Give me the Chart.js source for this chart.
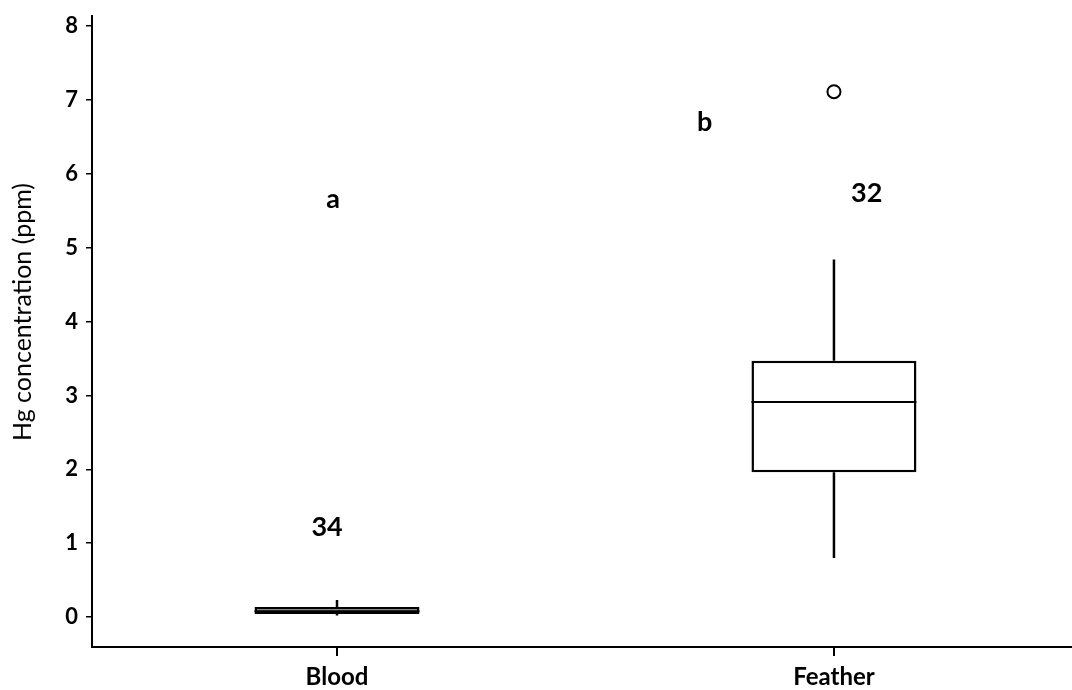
<!DOCTYPE html>
<html>
<head>
<meta charset="utf-8">
<script src="https://cdn.jsdelivr.net/npm/chart.js@4/dist/chart.umd.min.js"></script>
<style>
  html, body { margin: 0; padding: 0; background: #fff; }
  #wrap { width: 1072px; height: 690px; }
</style>
</head>
<body>
<div id="wrap"><canvas id="c" width="1072" height="690"></canvas></div>
<script>
// Hg concentration by tissue type: five-number summaries per group
const categories = ['Blood', 'Feather'];
const positions = [1, 2];
const whiskerLow = [0.02, 0.80];
const quartile1 = [0.04, 1.96];
const medians = [0.08, 2.91];
const quartile3 = [0.135, 3.47];
const whiskerHigh = [0.23, 4.84];
const outlierValues = [7.11];
const outlierGroups = [2];
const yTicks = [0, 1, 2, 3, 4, 5, 6, 7, 8];

// Text annotations: [label, x position, value]
const letterLabels = [['a', 0.992, 5.66], ['b', 1.74, 6.69]];
const countLabels = [['34', 0.98, 1.22], ['32', 2.066, 5.74]];
const yTitle = 'Hg concentration (ppm)';

const boxFills = ['#8c8c8c', '#ffffff'];
const FONT = 'Lato, "Open Sans", "DejaVu Sans", sans-serif';

// Whiskers, medians, annotations and the axis title drawn over the box bars
const boxExtras = {
  id: 'boxExtras',
  afterDatasetsDraw(chart) {
    const ctx = chart.ctx;
    const x = chart.scales.x, y = chart.scales.y;
    const meta = chart.getDatasetMeta(0);
    ctx.save();
    ctx.strokeStyle = '#000';
    ctx.lineCap = 'butt';
    meta.data.forEach((bar, i) => {
      const cx = bar.x, half = bar.width / 2;
      ctx.lineWidth = 2.5;
      ctx.beginPath();
      ctx.moveTo(cx, y.getPixelForValue(quartile3[i]));
      ctx.lineTo(cx, y.getPixelForValue(whiskerHigh[i]));
      ctx.moveTo(cx, y.getPixelForValue(quartile1[i]));
      ctx.lineTo(cx, y.getPixelForValue(whiskerLow[i]));
      ctx.stroke();
      ctx.lineWidth = 2;
      ctx.beginPath();
      const my = y.getPixelForValue(medians[i]);
      ctx.moveTo(cx - half, my);
      ctx.lineTo(cx + half, my);
      ctx.stroke();
    });
    ctx.fillStyle = '#000';
    ctx.textAlign = 'center';
    ctx.textBaseline = 'middle';
    ctx.font = 'bold 27px ' + FONT;
    letterLabels.concat(countLabels).forEach(([t, px, v]) => {
      ctx.fillText(t, x.getPixelForValue(px), y.getPixelForValue(v));
    });
    // rotated y-axis title, set a little above the axis midpoint
    ctx.font = '25px ' + FONT;
    ctx.translate(23, 312);
    ctx.rotate(-Math.PI / 2);
    ctx.fillText(yTitle, 0, 0);
    ctx.restore();
  }
};

new Chart(document.getElementById('c'), {
  type: 'bar',
  data: {
    datasets: [
      {
        type: 'bar',
        data: positions.map((p, i) => ({ x: p, y: [quartile1[i], quartile3[i]] })),
        backgroundColor: boxFills,
        borderColor: '#000',
        borderWidth: 2.5,
        borderSkipped: false,
        categoryPercentage: 1,
        barPercentage: 0.332,
        order: 2
      },
      {
        type: 'line',
        data: outlierGroups.map((g, i) => ({ x: g, y: outlierValues[i] })),
        showLine: false,
        pointStyle: 'circle',
        pointRadius: 6.5,
        pointBorderWidth: 2,
        pointBorderColor: '#000',
        pointBackgroundColor: '#fff',
        order: 1
      }
    ]
  },
  options: {
    responsive: false,
    animation: false,
    events: [],
    layout: { autoPadding: false, padding: { top: 16, right: 0, left: 0, bottom: 0 } },
    plugins: { legend: { display: false }, tooltip: { enabled: false } },
    scales: {
      x: {
        type: 'linear',
        min: 0.507,
        max: 2.479,
        offset: false,
        afterBuildTicks(s) { s.ticks = positions.map(v => ({ value: v })); },
        grid: { offset: false, drawOnChartArea: false, drawTicks: true, tickLength: 9, color: '#000', lineWidth: 2 },
        border: { display: true, color: '#000', width: 2 },
        ticks: {
          color: '#000', font: { family: FONT, size: 24, weight: 'bold' }, padding: 7, maxRotation: 0,
          callback: v => categories[positions.indexOf(v)]
        },
        afterFit(s) { s.height = 43; s.paddingLeft = 0; s.paddingRight = 0; }
      },
      y: {
        type: 'linear',
        min: -0.405,
        max: 8.135,
        afterBuildTicks(s) { s.ticks = yTicks.map(v => ({ value: v })); },
        grid: { drawOnChartArea: false, drawTicks: true, tickLength: 6, color: '#000', lineWidth: 1.5 },
        border: { display: true, color: '#000', width: 2 },
        ticks: { color: '#000', font: { family: FONT, size: 22, weight: 'bold' }, padding: 8 },
        afterFit(s) { s.width = 92; s.paddingTop = 0; s.paddingBottom = 0; }
      }
    }
  },
  plugins: [boxExtras]
});
</script>
</body>
</html>
